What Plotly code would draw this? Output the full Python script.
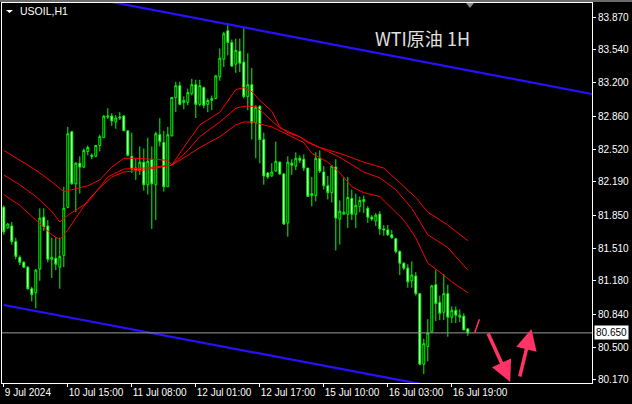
import plotly.graph_objects as go

# ---------------- data ----------------
open_ = [81.93,81.72,81.74,81.58,81.42,81.37,81.32,81.10,81.06,81.30,
         81.83,81.74,81.40,81.41,81.32,81.44,81.93,82.70,82.17,82.38,
         82.34,82.50,82.46,82.45,82.56,82.64,82.85,82.86,82.80,82.84,
         82.86,82.71,82.45,82.31,82.31,82.39,82.16,82.42,82.16,82.67,
         82.59,82.14,82.66,83.05,83.17,83.00,83.00,83.09,83.18,82.98,
         83.15,82.98,83.02,83.04,83.26,83.44,83.73,83.61,83.39,83.52,
         83.41,83.06,83.18,82.79,82.96,82.62,82.28,82.25,82.30,82.39,
         82.27,81.77,82.38,82.35,82.43,82.42,82.33,82.05,82.05,82.43,
         82.29,82.15,82.08,82.34,81.81,81.86,81.86,82.02,81.86,81.94,
         81.99,81.92,81.83,81.79,81.86,81.71,81.70,81.65,81.61,81.48,
         81.36,81.31,81.18,81.23,81.05,80.33,80.51,80.66,81.14,80.96,
         80.86,81.05,80.81,80.88,80.81,80.82,80.69]
high = [81.95,81.77,81.78,81.62,81.44,81.38,81.33,81.12,81.30,81.92,
        81.92,81.80,81.62,81.62,81.62,82.14,82.75,82.71,82.39,82.45,
        82.53,82.56,82.48,82.56,82.67,82.87,82.94,82.89,82.87,82.90,
        82.87,82.71,82.69,82.43,82.55,82.53,82.64,82.55,82.70,82.84,
        82.71,82.75,83.05,83.21,83.21,83.06,83.14,83.24,83.23,83.23,
        83.16,83.04,83.07,83.28,83.55,83.72,83.81,83.64,83.65,83.65,
        83.76,83.50,83.35,82.97,82.97,82.69,82.29,82.38,82.60,82.40,
        82.28,82.45,82.42,82.49,82.46,82.47,82.33,82.24,82.49,82.51,
        82.35,82.25,82.36,82.42,82.00,82.24,82.24,82.11,82.07,82.04,
        82.05,81.94,81.85,81.87,81.89,81.75,81.75,81.70,81.62,81.49,
        81.37,81.35,81.38,81.27,81.05,80.59,80.79,81.14,81.29,81.03,
        81.25,81.14,80.92,80.92,80.89,80.85,80.70]
low = [81.65,81.71,81.55,81.40,81.34,81.31,81.09,80.97,80.90,81.18,
       81.69,81.37,81.21,81.29,81.10,81.32,81.92,82.16,81.88,82.07,
       82.33,82.46,82.42,82.44,82.50,82.64,82.83,82.76,82.73,82.82,
       82.71,82.45,82.28,82.21,82.26,82.10,82.06,81.71,81.80,82.55,
       82.09,82.14,82.65,82.90,82.97,82.93,82.97,83.07,82.84,82.96,
       82.94,82.90,82.92,83.03,83.22,83.36,83.48,83.36,83.30,83.31,
       83.04,82.92,82.62,82.43,82.38,82.16,82.22,82.24,82.29,82.26,
       81.75,81.63,82.26,82.31,82.38,82.30,82.04,81.94,81.99,82.28,
       82.11,82.01,81.98,81.49,81.55,81.86,81.72,81.80,81.72,81.88,
       81.87,81.77,81.79,81.74,81.65,81.64,81.64,81.61,81.46,81.24,
       81.29,81.11,81.11,81.03,80.32,80.23,80.36,80.65,80.77,80.78,
       80.78,80.61,80.75,80.75,80.76,80.68,80.62]
close = [81.68,81.76,81.58,81.43,81.37,81.32,81.10,81.04,81.29,81.82,
         81.73,81.40,81.42,81.35,81.43,81.92,82.68,82.17,82.38,82.34,
         82.51,82.54,82.45,82.56,82.65,82.86,82.86,82.81,82.84,82.85,
         82.71,82.46,82.32,82.33,82.39,82.16,82.40,82.17,82.68,82.60,
         82.14,82.67,83.05,83.17,82.98,83.02,83.10,83.18,82.98,83.17,
         82.97,83.02,83.04,83.27,83.45,83.70,83.61,83.37,83.53,83.40,
         83.06,83.18,82.79,82.95,82.62,82.25,82.24,82.29,82.40,82.27,
         81.76,82.39,82.36,82.43,82.41,82.33,82.04,82.07,82.43,82.30,
         82.15,82.08,82.35,81.82,81.89,81.88,82.03,81.86,81.95,82.00,
         82.01,81.83,81.81,81.85,81.71,81.70,81.65,81.62,81.48,81.36,
         81.31,81.17,81.24,81.05,80.33,80.54,80.65,81.13,80.95,80.85,
         81.05,80.81,80.88,80.83,80.83,80.68,80.65]
bar_index = list(range(len(close)))

# moving-average lines (read at sample bars)
ma1_idx = [0,4,8,12,15,17,21,24,27,30,33,41,42,46,49,54,58,60,62,64,67,69,71,74,76,79,84,90,95,99,103,106,111,116]
ma1_val = [82.51,82.41,82.31,82.19,82.09,82.11,82.15,82.21,82.34,82.43,82.43,82.41,82.36,82.60,82.77,82.90,83.13,83.15,83.11,83.02,82.91,82.75,82.69,82.65,82.60,82.54,82.48,82.39,82.33,82.18,82.03,81.88,81.75,81.59]
ma2_idx = [0,4,8,12,14,16,21,24,26,30,35,42,46,49,54,58,60,63,66,69,74,76,79,82,84,90,94,98,102,106,111,116]
ma2_val = [82.26,82.16,82.04,81.89,81.78,81.85,81.98,82.14,82.24,82.32,82.33,82.36,82.51,82.65,82.80,82.94,82.96,82.96,82.85,82.74,82.65,82.59,82.54,82.48,82.44,82.29,82.23,82.11,81.92,81.65,81.52,81.29]
ma3_idx = [0,4,8,12,14,16,21,24,27,30,35,42,46,49,54,58,60,62,67,70,72,75,77,81,84,87,90,94,100,103,106,109,112,116]
ma3_val = [82.06,81.95,81.80,81.65,81.60,81.70,82.00,82.13,82.24,82.29,82.31,82.36,82.46,82.54,82.65,82.77,82.80,82.80,82.75,82.69,82.65,82.59,82.48,82.39,82.28,82.14,82.08,82.04,81.80,81.62,81.36,81.27,81.17,81.06]

# channel lines (bar, price)
upper_channel_x = [0, 147]
upper_channel_y = [84.234, 83.085]
lower_channel_x = [0, 104]
lower_channel_y = [80.934, 80.13]

current_price = 80.65

# y axis ticks
y_ticks = [83.87, 83.54, 83.20, 82.86, 82.52, 82.19, 81.85, 81.51, 81.18, 80.84, 80.50, 80.17]
# x axis ticks
x_tick_bars = [0, 16, 32, 48, 64, 80, 96, 112]
x_tick_labels = ["9 Jul 2024", "10 Jul 15:00", "11 Jul 08:00", "12 Jul 01:00",
                 "12 Jul 17:00", "15 Jul 10:00", "16 Jul 03:00", "16 Jul 19:00"]

# hand-drawn forecast arrows (tail bar, tail price, head bar, head price)
small_stroke = [117.7, 80.65, 118.9, 80.79]
down_arrow = [120.9, 80.66, 126.6, 80.15]
up_arrow = [128.9, 80.19, 131.9, 80.69]

# ---------------- figure ----------------
LIME = "#00ff00"
RED = "#ff0000"
BLUE = "#2a10ff"
ARROW = "#ff3366"
TICKFONT = dict(family="Liberation Sans", size=10, color="#ffffff")

fig = go.Figure()

for xi, yv in [(upper_channel_x, upper_channel_y), (lower_channel_x, lower_channel_y)]:
    fig.add_trace(go.Scatter(x=xi, y=yv, mode="lines",
                             line=dict(color=BLUE, width=2.2), hoverinfo="skip"))

for xi, yv in [(ma1_idx, ma1_val), (ma2_idx, ma2_val), (ma3_idx, ma3_val)]:
    fig.add_trace(go.Scatter(x=xi, y=yv, mode="lines",
                             line=dict(color=RED, width=1), hoverinfo="skip"))

fig.add_trace(go.Candlestick(
    x=bar_index, open=open_, high=high, low=low, close=close,
    increasing=dict(line=dict(color=LIME, width=1), fillcolor="#000000"),
    decreasing=dict(line=dict(color=LIME, width=1), fillcolor="#ffffff"),
    whiskerwidth=0,
))

# current price line
fig.add_shape(type="line", xref="paper", x0=0, x1=1, yref="y",
              y0=current_price, y1=current_price,
              line=dict(color="#9a9a9a", width=1))

# small red stroke
fig.add_shape(type="line", xref="x", yref="y",
              x0=small_stroke[0], y0=small_stroke[1], x1=small_stroke[2], y1=small_stroke[3],
              line=dict(color=ARROW, width=1.5))

for arr in (down_arrow, up_arrow):
    fig.add_annotation(x=arr[2], y=arr[3], ax=arr[0], ay=arr[1],
                       xref="x", yref="y", axref="x", ayref="y",
                       text="", showarrow=True, arrowhead=2, arrowsize=1.2,
                       arrowwidth=3.5, arrowcolor=ARROW, standoff=0, startstandoff=0)

# price tag
fig.add_annotation(x=1, xref="paper", xanchor="left", xshift=2,
                   y=current_price, yref="y", yanchor="middle",
                   text="80.650", showarrow=False, bgcolor="#ffffff",
                   font=dict(family="Liberation Sans", size=10, color="#000000"),
                   borderpad=1)

# title text
fig.add_annotation(x=0.6285, y=0.908, xref="paper", yref="paper",
                   xanchor="left", yanchor="middle", text="WTI原油 1H",
                   showarrow=False,
                   font=dict(family="Noto Sans CJK SC", size=18, color="#e0e0e0"))

# symbol label
fig.add_annotation(x=0.0271, y=0.979, xref="paper", yref="paper",
                   xanchor="left", yanchor="middle", text="USOIL,H1",
                   showarrow=False,
                   font=dict(family="Liberation Sans", size=10.5, color="#ffffff"))
fig.add_shape(type="path", xref="paper", yref="paper",
              path="M 0.0068 0.9816 L 0.0186 0.9816 L 0.0127 0.9737 Z",
              fillcolor="#ffffff", line=dict(width=0))

# top grey strip and shift marker
fig.add_shape(type="rect", xref="paper", yref="paper",
              x0=-0.01, x1=1.08, y0=1.0028, y1=1.01,
              fillcolor="#6a6a6a", line=dict(width=0), layer="above")
fig.add_shape(type="path", xref="paper", yref="paper",
              path="M 0.7865 1.0 L 0.7999 1.0 L 0.7932 0.987 Z",
              fillcolor="#8a8a8a", line=dict(width=0))

fig.update_layout(
    width=632, height=404,
    margin=dict(l=2, r=40, t=3, b=21, autoexpand=False),
    paper_bgcolor="#000000", plot_bgcolor="#000000",
    showlegend=False,
    boxgap=0.32,
    xaxis=dict(range=[-0.45, 147.05], rangeslider=dict(visible=False),
               automargin=False,
               showgrid=False, zeroline=False,
               showline=True, mirror=True, linecolor="#ffffff", linewidth=1,
               ticks="outside", ticklen=3, tickcolor="#ffffff",
               tickvals=x_tick_bars, ticktext=x_tick_labels,
               ticklabelposition="outside right",
               tickfont=TICKFONT),
    yaxis=dict(range=[80.139, 84.013], side="right", automargin=False,
               showgrid=False, zeroline=False,
               showline=True, mirror=True, linecolor="#ffffff", linewidth=1,
               ticks="outside", ticklen=3, tickcolor="#ffffff",
               tickvals=y_ticks, ticktext=[f"{v:.3f}" for v in y_ticks],
               tickfont=TICKFONT),
)

fig.write_html("out.html", config={"displayModeBar": False},
               post_script="document.body.style.margin='0';document.body.style.background='#000';")
